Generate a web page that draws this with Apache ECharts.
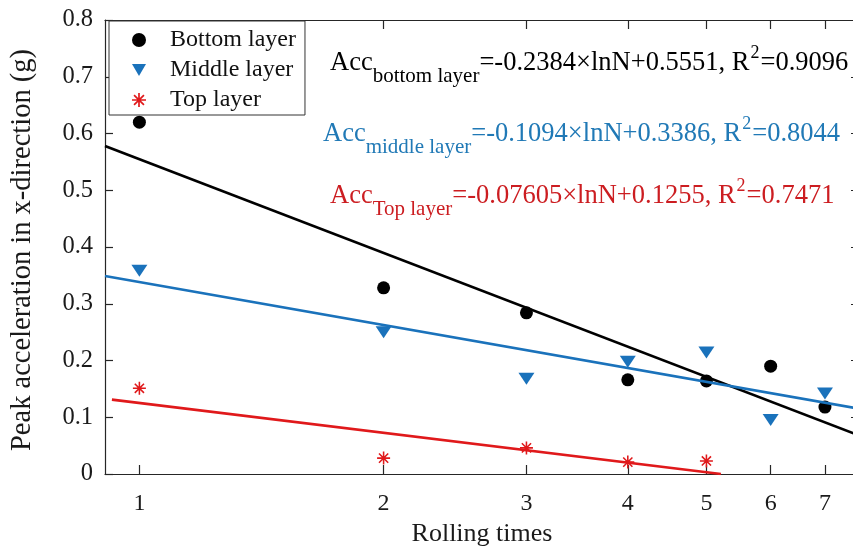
<!DOCTYPE html>
<html>
<head>
<meta charset="utf-8">
<script src="https://cdn.jsdelivr.net/npm/echarts@6/dist/echarts.min.js"></script>
<style>html,body{margin:0;padding:0;background:#fff;overflow:hidden;}#c{width:853px;height:547px;}</style>
</head>
<body>
<div id="c"></div>
<script>
// ---- data ----
const rollingTimes = [1, 2, 3, 4, 5, 6, 7];
const bottomLayer = [0.620, 0.328, 0.284, 0.166, 0.164, 0.190, 0.118];
const middleLayer = [0.358, 0.250, 0.168, 0.198, 0.214, 0.095, 0.142];
const topLayerN = [1, 2, 3, 4, 5];
const topLayer = [0.151, 0.028, 0.046, 0.021, 0.023];
// fitted-curve end points (N, value)
const bottomFit = [[0.907, 0.578], [7.71, 0.068]];
const middleFit = [[0.907, 0.349], [7.71, 0.115]];
const topFit = [[0.925, 0.131], [5.21, 0.0]];
const xTicks = [1, 2, 3, 4, 5, 6, 7];
const yTicks = [0, 0.1, 0.2, 0.3, 0.4, 0.5, 0.6, 0.7, 0.8];
const seriesNames = ['Bottom layer', 'Middle layer', 'Top layer'];
const equations = [
  ['bottom layer', '=-0.2384×lnN+0.5551, R', '2', '=0.9096'],
  ['middle layer', '=-0.1094×lnN+0.3386, R', '2', '=0.8044'],
  ['Top layer', '=-0.07605×lnN+0.1255, R', '2', '=0.7471']
];

const FONT = "'Liberation Serif','Times New Roman',serif";
const AX = '#262626';
const BLUE = '#1a72bb';
const RED = '#e0191b';
const ASTER = 'path://M-1.2,-10 L1.2,-10 L1.2,10 L-1.2,10 Z M-10,-1.2 L10,-1.2 L10,1.2 L-10,1.2 Z ' +
  'M-6.222,-7.92 L7.92,6.222 L6.222,7.92 L-7.92,-6.222 Z M-7.92,6.222 L6.222,-7.92 L7.92,-6.222 L-6.222,7.92 Z';
const TRI = 'path://M0,0 L14,0 L7,12 Z';

const pair = (xs, ys) => xs.map((x, i) => [x, ys[i]]);

const xBase = {
  type: 'log', logBase: Math.E, min: 0.907, max: 7.71,
  axisLine: { show: true, onZero: false, lineStyle: { color: AX, width: 1.2 } },
  axisTick: { show: true, inside: true, length: 9, customValues: xTicks, lineStyle: { color: AX, width: 1.2 } },
  minorTick: { show: false }, splitLine: { show: false }
};

const chart = echarts.init(document.getElementById('c'), null, { renderer: 'canvas' });
const eqColors = ['#000000', '#2079b6', '#cc1d21'];
const eqX = [330, 323, 330];
const eqY = [63, 134, 196];

chart.setOption({
  animation: false,
  backgroundColor: '#ffffff',
  textStyle: { fontFamily: FONT },
  grid: { left: 105, top: 20, width: 754, bottom: 73, containLabel: false, outerBoundsMode: 'none' },
  xAxis: [
    Object.assign({}, xBase, {
      position: 'bottom',
      name: 'Rolling times', nameLocation: 'middle', nameGap: 42,
      nameTextStyle: { fontFamily: FONT, fontSize: 26, color: '#1a1a1a' },
      axisLabel: { show: true, customValues: xTicks, margin: 18, fontFamily: FONT, fontSize: 24, color: '#1a1a1a',
        formatter: v => String(Math.round(v)) }
    }),
    Object.assign({}, xBase, { position: 'top', axisLabel: { show: false } })
  ],
  yAxis: [
    {
      type: 'value', min: 0, max: 0.8, interval: 0.1, position: 'left',
      name: 'Peak acceleration in x-direction (g)', nameLocation: 'middle', nameGap: 68,
      nameTextStyle: { fontFamily: FONT, fontSize: 28.5, color: '#1a1a1a', padding: [0, 6, 0, 0] },
      axisLine: { show: true, onZero: false, lineStyle: { color: AX, width: 1.2 } },
      axisTick: { show: true, inside: true, length: 8, lineStyle: { color: AX, width: 1.2 } },
      splitLine: { show: false },
      axisLabel: { margin: 12, fontFamily: FONT, fontSize: 24.5, color: '#1a1a1a',
        formatter: v => (Math.abs(v) < 1e-9 ? '0' : v.toFixed(1)) }
    },
    {
      type: 'value', min: 0, max: 0.8, interval: 0.1, position: 'right',
      axisLine: { show: true, onZero: false, lineStyle: { color: AX, width: 1.2 } },
      axisTick: { show: true, inside: true, length: 8, lineStyle: { color: AX, width: 1.2 } },
      splitLine: { show: false }, axisLabel: { show: false }
    }
  ],
  legend: {
    data: seriesNames,
    orient: 'vertical', left: 109, top: 21,
    padding: [7, 9, 3, 23], itemGap: 6,
    itemWidth: 14, itemHeight: 14,
    borderColor: '#333333', borderWidth: 1, borderRadius: 0, backgroundColor: '#ffffff',
    textStyle: { fontFamily: FONT, fontSize: 24, color: '#111', lineHeight: 24, padding: [0, 0, 0, 19] },
    z: 10
  },
  series: [
    { name: seriesNames[0], type: 'scatter', data: pair(rollingTimes, bottomLayer),
      symbol: 'circle', symbolSize: 13, itemStyle: { color: '#000000', opacity: 1 } },
    { name: seriesNames[1], type: 'scatter', data: pair(rollingTimes, middleLayer),
      symbol: TRI, symbolSize: [16, 14], symbolKeepAspect: true, itemStyle: { color: BLUE, opacity: 1 } },
    { name: seriesNames[2], type: 'scatter', data: pair(topLayerN, topLayer),
      symbol: ASTER, symbolSize: 13, symbolKeepAspect: true, itemStyle: { color: RED, opacity: 1 } },
    { name: 'bottomFit', type: 'line', data: bottomFit, showSymbol: false, silent: true,
      lineStyle: { color: '#000000', width: 2.6 }, z: 3 },
    { name: 'middleFit', type: 'line', data: middleFit, showSymbol: false, silent: true,
      lineStyle: { color: BLUE, width: 2.6 }, z: 3 },
    { name: 'topFit', type: 'line', data: topFit, showSymbol: false, silent: true,
      lineStyle: { color: RED, width: 2.6 }, z: 3 }
  ],
  graphic: equations.map((e, i) => ({
    type: 'text', left: eqX[i], top: eqY[i] - 24, z: 20,
    style: {
      text: '{m|Acc}{s|' + e[0] + '}{m|' + e[1] + '}{p|' + e[2] + '}{m|' + e[3] + '}',
      fill: eqColors[i],
      rich: {
        m: { fontFamily: FONT, fontSize: 26.5, lineHeight: 48, verticalAlign: 'middle', fill: eqColors[i] },
        s: { fontFamily: FONT, fontSize: 21, lineHeight: 20, verticalAlign: 'bottom', fill: eqColors[i] },
        p: { fontFamily: FONT, fontSize: 18, lineHeight: 20, verticalAlign: 'top', padding: [5, 1, 0, 1], fill: eqColors[i] }
      }
    }
  }))
});
</script>
</body>
</html>
